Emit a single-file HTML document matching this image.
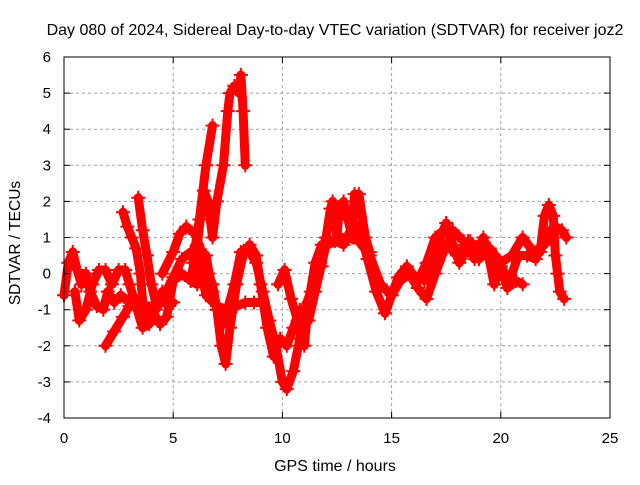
<!DOCTYPE html>
<html><head><meta charset="utf-8"><style>
body{margin:0;background:#fff;font-family:"Liberation Sans",sans-serif}
svg text{font-family:"Liberation Sans",sans-serif;font-size:15px;fill:#000}
</style></head><body>
<svg id="chart" width="640" height="480" viewBox="0 0 640 480">
<rect width="640" height="480" fill="#fff"/>
<text x="335" y="35" text-anchor="middle" style="font-size:16px">Day 080 of 2024, Sidereal Day-to-day VTEC variation (SDTVAR) for receiver joz2</text>
<g id="grid"></g><g id="series"></g><g id="axes"></g>
<text x="335" y="471" text-anchor="middle" style="font-size:16px">GPS time / hours</text>
<text transform="translate(20,243) rotate(-90)" text-anchor="middle" style="font-size:15.5px">SDTVAR / TECUs</text>
</svg>
<script>
const xTicks=[0,5,10,15,20,25];
const yTicks=[-4,-3,-2,-1,0,1,2,3,4,5,6];
const arcA=[[0,-0.6],[0.2,0.3],[0.4,0.6],[0.6,0.1],[0.8,-0.3],[1.0,0],[1.2,-0.5],[1.5,-0.9],[1.8,-1.0],[2.0,-0.5],[2.3,-0.8],[2.6,-0.6],[3.0,-0.8],[3.4,-1.0],[3.8,-1.2],[4.2,-1.0],[4.6,-0.6],[5.0,-0.1],[5.4,0.4],[5.8,0.6],[6.2,0.3],[6.5,-0.6],[7,-0.9],[7.5,-1.0],[7.9,-0.9],[8.3,-0.8],[8.7,-0.8],[9.0,-0.8]];
const arcB=[[0.5,-0.5],[0.7,-1.3],[1.0,-1.0],[1.3,-0.3],[1.6,0.1],[1.9,0.1],[2.2,-0.3],[2.5,0.1],[2.8,0.1],[3.0,-0.3],[3.3,-0.9],[3.6,-1.5],[3.9,-1.4],[4.2,-0.8],[4.5,-0.5],[4.8,-0.9],[5.0,-0.8]];
const arcC=[[1.9,-2.0],[2.3,-1.6],[2.7,-1.2],[3.0,-0.9],[3.3,-0.8],[3.7,-0.9],[4.0,-1.0],[4.4,-1.4],[4.7,-1.2],[5.0,-0.2],[5.4,0],[5.8,-0.2],[6.1,-0.3],[6.5,0.5],[6.8,-0.5],[7.0,-1.0],[7.3,-1.4],[7.8,-0.3],[8.1,0.6],[8.4,0.7],[8.8,0.3],[9.1,-0.5],[9.4,-1.3],[9.7,-2.0],[10.0,-3.0],[10.2,-3.2],[10.5,-2.7],[10.8,-1.8],[11.0,-1.0],[11.3,-0.5]];
const arcD=[[2.7,1.7],[2.9,1.3],[3.1,1.0],[3.3,0.7],[3.5,0.0],[3.6,-0.8]];
const arcE=[[3.4,2.1],[3.6,1.2],[3.8,0.5],[4.0,-0.3],[4.2,-0.8]];
const arcF=[[5.8,-0.2],[6.1,0.8],[6.4,2.3],[6.6,2.0],[6.8,1.0],[7.0,2.0],[7.3,3.0],[7.5,4.5],[7.6,5.0],[7.8,5.2],[8.0,5.0],[8.1,5.5],[8.2,4.5],[8.3,3.0]];
const arcG=[[5.9,0.3],[6.2,1.5],[6.5,3.0],[6.8,4.1]];
const arcH=[[4.5,0],[5.0,0.6],[5.3,1.1],[5.6,1.3],[6.0,1.1],[6.3,0.6],[6.6,0],[6.8,-0.3],[7.0,-1.0],[7.2,-2.0],[7.4,-2.5],[7.6,-1.5],[7.9,-0.3],[8.2,0.5],[8.5,0.8],[8.8,0.5],[9.0,-0.3],[9.3,-1.5],[9.6,-2.3],[9.9,-1.8],[10.2,-2.0],[10.5,-1.5],[10.8,-1.0],[11.2,-1.3],[11.5,-0.5],[12.0,0.8],[12.5,1.0],[13,1.0],[13.5,0.9],[14,0.5],[14.5,-0.3],[15,-0.6],[15.4,-0.2],[15.8,0],[16.2,-0.4],[16.6,-0.7],[17,0],[17.5,0.8],[18,0.5],[18.5,0.9],[19,0.7],[19.5,0.7],[20,0.3],[20.5,0.5],[21,1.0],[21.5,0.6],[22,0.8],[22.5,1.3],[22.8,1.2],[23,1.0]];
const arcI=[[9.8,-0.3],[10.1,0.1],[10.4,-0.7],[10.7,-1.3],[11.0,-2.0],[11.2,-0.8],[11.5,0.3],[11.8,0.8],[12.1,0.8],[12.4,0.9],[12.8,0.8],[13.2,1.3],[13.5,1.3],[13.9,0.4],[14.3,-0.5],[14.7,-1.1],[15.0,-0.6],[15.3,-0.1],[15.7,0.2],[16.2,-0.2],[16.6,0.3],[17.0,1.0],[17.4,1.2],[17.8,1.2],[18.3,0.9],[18.8,0.4],[19.2,1.0],[19.5,0.4],[20,0.2],[20.4,-0.2],[20.8,0.5],[21.2,0.5],[21.6,0.4],[22.0,1.0],[22.3,1.2],[22.6,1.2]];
const arcJ=[[11.8,0.2],[12.0,1.0],[12.2,1.8],[12.3,2.0],[12.5,1.0],[12.6,1.8],[12.8,2.0],[13.0,1.5],[13.2,1.0],[13.3,2.2],[13.5,2.2],[13.8,1.0],[14.0,0.6],[14.3,-0.5]];
const arcK=[[21.8,0.6],[22.0,1.6],[22.2,1.9],[22.4,1.6],[22.5,0.5],[22.6,0],[22.7,-0.5],[22.9,-0.7]];
const arcL=[[16.5,-0.2],[17.0,0.5],[17.3,1.1],[17.5,1.4],[17.8,0.8],[18.1,0.3],[18.3,0.5],[18.6,0.9],[19.0,0.4],[19.4,0.6],[19.7,-0.3],[20.0,0.2],[20.3,-0.4],[20.7,-0.2],[21,-0.3]];
const arcs=[arcA,arcB,arcC,arcD,arcE,arcF,arcG,arcH,arcI,arcJ,arcK,arcL];
const X0=64,X1=610,Y0=418,Y1=57;
function sx(v){return X0+(v-0)/(25-0)*(X1-X0);}
function sy(v){return Y0-(v+4)/(10)*(Y0-Y1);}
const NS="http://www.w3.org/2000/svg";
function mk(t,a,p){const e=document.createElementNS(NS,t);for(const k in a)e.setAttribute(k,a[k]);p.appendChild(e);return e;}
const grid=document.getElementById('grid'),axes=document.getElementById('axes'),ser=document.getElementById('series');
xTicks.forEach(t=>{const x=sx(t);
 if(t>0&&t<25){const g=mk('line',{x1:x,y1:Y0,x2:x,y2:Y1,stroke:'#a0a0a0','stroke-dasharray':'3,3'},grid);
 
 }
 mk('line',{x1:x,y1:Y0,x2:x,y2:Y0-6,stroke:'#000'},axes);mk('line',{x1:x,y1:Y1,x2:x,y2:Y1+6,stroke:'#000'},axes);
 const l=mk('text',{x:x,y:Y0+25,'text-anchor':'middle'},axes);l.textContent=t;
 
 });
yTicks.forEach(t=>{const y=sy(t);
 if(t>-4&&t<6){const g=mk('line',{x1:X0,y1:y,x2:X1,y2:y,stroke:'#a0a0a0','stroke-dasharray':'3,3'},grid);
 
 }
 mk('line',{x1:X0,y1:y,x2:X0+6,y2:y,stroke:'#000'},axes);mk('line',{x1:X1,y1:y,x2:X1-6,y2:y,stroke:'#000'},axes);
 const l=mk('text',{x:X0-13,y:y+5,'text-anchor':'end'},axes);l.textContent=t;
 
 });
const frame=mk('rect',{x:X0,y:Y1,width:X1-X0,height:Y0-Y1,fill:'none',stroke:'#000'},axes);


arcs.forEach((arc,i)=>{
 const g=mk('g',{},ser);
 
 
 mk('polyline',{points:arc.map(p=>sx(p[0])+','+sy(p[1])).join(' '),fill:'none',stroke:'#ff0000','stroke-width':9,'stroke-linejoin':'round','stroke-linecap':'round'},g);
 arc.forEach(p=>{const x=sx(p[0]),y=sy(p[1]);
  mk('path',{d:`M${x-7},${y}H${x+7}M${x},${y-7}V${y+7}`,stroke:'#ff0000','stroke-width':2},g);});
});
</script>
</body></html>
